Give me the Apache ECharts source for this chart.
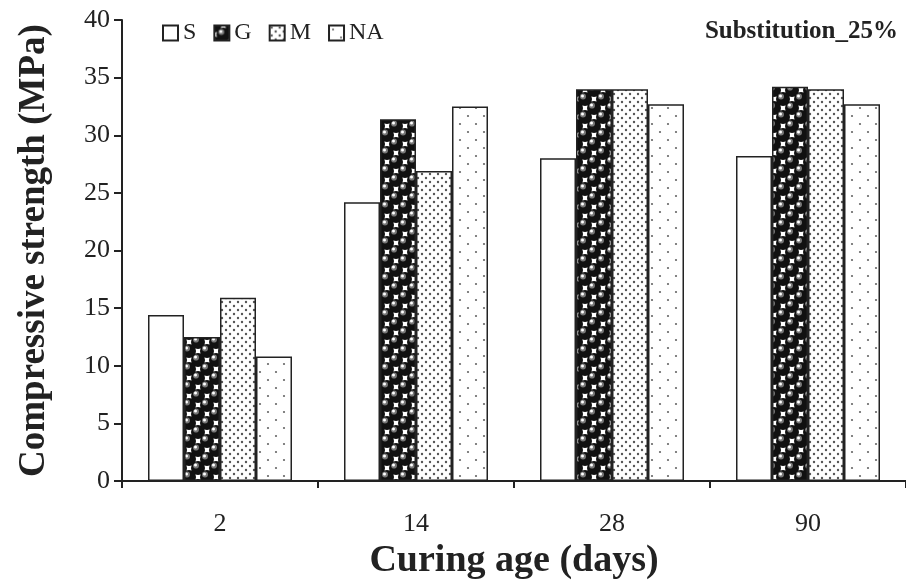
<!DOCTYPE html>
<html><head><meta charset="utf-8">
<script src="https://cdn.jsdelivr.net/npm/echarts@6/dist/echarts.min.js"></script>
<style>html,body{margin:0;padding:0;background:#fff}#c{width:906px;height:585px}</style>
</head><body><div id="c"></div>
<script>
const categories = ['2', '14', '28', '90'];
const seriesNames = ['S', 'G', 'M', 'NA'];
const valuesS = [14.4, 24.2, 28.0, 28.2];
const valuesG = [12.5, 31.4, 34.0, 34.2];
const valuesM = [15.9, 26.9, 34.0, 34.0];
const valuesNA = [10.8, 32.5, 32.7, 32.7];
const yTicks = [0, 5, 10, 15, 20, 25, 30, 35, 40];

function mk(w, h, draw) {
  const c = document.createElement('canvas'); c.width = w; c.height = h;
  const g = c.getContext('2d'); g.fillStyle = '#fff'; g.fillRect(0, 0, w, h); draw(g); return c;
}
const patG = mk(18, 18, g => {
  g.fillStyle = '#111'; g.fillRect(0, 0, 18, 18);
  g.fillStyle = '#fff';
  g.fillRect(6, 0, 6, 3); g.fillRect(6, 15, 6, 3); g.fillRect(0, 6, 3, 6); g.fillRect(15, 6, 3, 6);
  const balls = [[0,0],[18,0],[0,18],[18,18],[9,9]];
  balls.forEach(([x,y]) => {
    g.fillStyle = '#111'; g.beginPath(); g.arc(x, y, 7, 0, Math.PI*2); g.fill();
    g.fillStyle = '#777'; g.beginPath(); g.arc(x-2, y-2.5, 3, 0, Math.PI*2); g.fill();
    g.fillStyle = '#fff'; g.beginPath(); g.arc(x-2.5, y-3, 1.5, 0, Math.PI*2); g.fill();
  });
});
const patM = mk(8, 8, g => {
  g.fillStyle = '#555';
  [[2,2],[6,6]].forEach(([x,y]) => { g.beginPath(); g.arc(x, y, 1.2, 0, Math.PI*2); g.fill(); });
});
const patNA = mk(16, 16, g => {
  g.fillStyle = '#666';
  [[4,4],[12,12]].forEach(([x,y]) => { g.beginPath(); g.arc(x, y, 1.1, 0, Math.PI*2); g.fill(); });
});
const fills = ['#fff', {image: patG, repeat: 'repeat'}, {image: patM, repeat: 'repeat'}, {image: patNA, repeat: 'repeat'}];
const data = [valuesS, valuesG, valuesM, valuesNA];
const serif = 'Liberation Serif';

const chart = echarts.init(document.getElementById('c'), null, {renderer: 'canvas'});
chart.setOption({
  animation: false,
  backgroundColor: '#fff',
  grid: {left: 122, right: 0, top: 20, bottom: 103, containLabel: false},
  title: {
    text: 'Substitution_25%', right: 3, top: 14,
    textStyle: {fontFamily: serif, fontWeight: 'bold', fontSize: 25, color: '#222'}
  },
  legend: {
    left: 157, top: 16, itemWidth: 15, itemHeight: 15, itemGap: 17, icon: 'rect',
    textStyle: {fontFamily: serif, fontSize: 24, color: '#222', padding: [0,0,0,0]},
    data: seriesNames.map((n, i) => ({name: n, itemStyle: {color: fills[i], borderColor: '#222', borderWidth: 2}}))
  },
  xAxis: {
    type: 'category', data: categories,
    name: 'Curing age (days)', nameLocation: 'middle', nameGap: 56,
    nameTextStyle: {fontFamily: serif, fontWeight: 'bold', fontSize: 38, color: '#222'},
    axisLine: {lineStyle: {color: '#222', width: 2}},
    axisTick: {show: true, alignWithLabel: false, length: 7, lineStyle: {color: '#222', width: 2}},
    axisLabel: {fontFamily: serif, fontSize: 26, color: '#222', margin: 30},
    splitLine: {show: false}
  },
  yAxis: {
    type: 'value', min: yTicks[0], max: yTicks[yTicks.length-1], interval: 5,
    name: 'Compressive strength (MPa)', nameLocation: 'middle', nameGap: 69,
    nameTextStyle: {fontFamily: serif, fontWeight: 'bold', fontSize: 37, color: '#222'},
    axisLine: {show: true, lineStyle: {color: '#222', width: 2}},
    axisTick: {show: true, inside: false, length: 8, lineStyle: {color: '#222', width: 2}},
    axisLabel: {fontFamily: serif, fontSize: 26, color: '#222', margin: 12},
    splitLine: {show: false}
  },
  series: seriesNames.map((n, i) => ({
    name: n, type: 'bar', data: data[i], barWidth: 36, barGap: '0%',
    itemStyle: {color: fills[i], borderColor: '#222', borderWidth: 1.5}
  }))
});
</script></body></html>
